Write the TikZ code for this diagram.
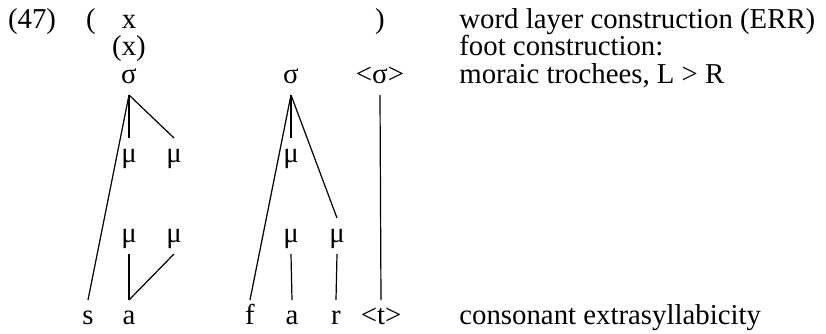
\documentclass[tikz,border=0pt]{standalone}
\usepackage{fontspec}
\setmainfont{Liberation Serif}

\begin{document}
\begin{tikzpicture}[x=0.5pt, y=-0.5pt, every node/.style={font=\fontsize{14.4}{16}\selectfont, anchor=base, inner sep=0pt}, seg/.style={text height=6pt, text depth=0pt, outer ysep=6pt}, gloss/.style={anchor=base west}]
  \useasboundingbox (0,0) rectangle (826,333);
  % grid and syllable rows
  \node (num) at (32,28) {(47)};
  \node (lpar) at (91,28) {(};
  \node (gridx) at (129,28) {x};
  \node (rpar) at (380,28) {)};
  \node (footx) at (129,55) {(x)};
  \node[seg] (sig1) at (129,83) {σ};
  \node[seg] (sig2) at (291,83) {σ};
  \node[seg] (sigx) at (380,83) {<σ>};
  % moras
  \node[seg] (mu1) at (129,162) {μ};
  \node[seg] (mu2) at (174,162) {μ};
  \node[seg] (mu3) at (291,162) {μ};
  \node[seg] (mu4) at (129,242) {μ};
  \node[seg] (mu5) at (174,242) {μ};
  \node[seg] (mu6) at (291,242) {μ};
  \node[seg] (mu7) at (337,242) {μ};
  % segments
  \node[seg] (s) at (88,324) {s};
  \node[seg] (a1) at (129,324) {a};
  \node[seg] (f) at (250,324) {f};
  \node[seg] (a2) at (292,324) {a};
  \node[seg] (r) at (336,324) {r};
  \node[seg] (t) at (381,324) {<t>};
  % glosses
  \node[gloss] (g1) at (459,28) {word layer construction (ERR)};
  \node[gloss] (g2) at (459,55) {foot construction:};
  \node[gloss] (g3) at (459,83) {moraic trochees, L > R};
  \node[gloss] (g4) at (459,324) {consonant extrasyllabicity};
  % association lines
  \draw[line width=0.6pt] (sig1.south) -- (s.north);
  \draw[line width=0.6pt] (sig1.south) -- (mu1.north);
  \draw[line width=0.6pt] (sig1.south) -- (mu2.north);
  \draw[line width=0.6pt] (mu4.south) -- (a1.north);
  \draw[line width=0.6pt] (mu5.south) -- (a1.north);
  \draw[line width=0.6pt] (sig2.south) -- (f.north);
  \draw[line width=0.6pt] (sig2.south) -- (mu3.north);
  \draw[line width=0.6pt] (sig2.south) -- (mu7.north);
  \draw[line width=0.6pt] (mu6.south) -- (a2.north);
  \draw[line width=0.6pt] (mu7.south) -- (r.north);
  \draw[line width=0.6pt] (sigx.south) -- (t.north);
\end{tikzpicture}
\end{document}
